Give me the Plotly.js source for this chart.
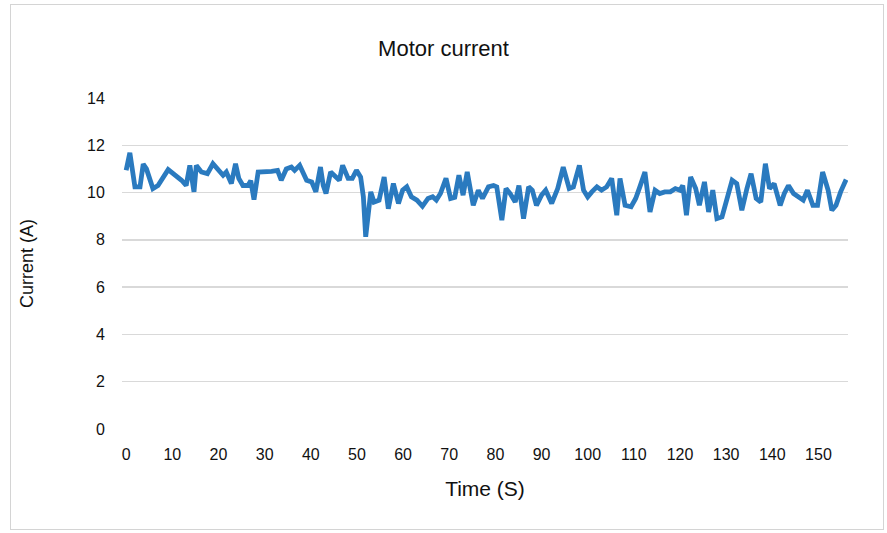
<!DOCTYPE html>
<html>
<head>
<meta charset="utf-8">
<script src="https://cdn.plot.ly/plotly-3.0.1.min.js"></script>
<style>
  html, body { margin: 0; padding: 0; background: #ffffff; }
  #wrap { position: relative; width: 887px; height: 533px; }
  #chart { width: 887px; height: 533px; }
  #frame { position: absolute; left: 10px; top: 4px; width: 874px; height: 526px;
           border: 1px solid #d4d4d4; pointer-events: none; box-sizing: border-box; }
</style>
</head>
<body>
<div id="wrap">
  <div id="chart"></div>
  <div id="frame"></div>
</div>
<script>
const timeS = [0, 0.8, 1.9, 3, 3.7, 4.4, 5.8, 6.9, 9.1, 9.8, 10.9, 12, 13, 13.8, 14.7, 15.2, 16.3, 17.6, 18.8, 19.9,
  21, 21.7, 22.8, 23.7, 24.4, 25.3, 26.4, 27, 27.7, 28.6, 30, 31.5, 32.8, 33.6, 34.7, 35.8, 36.5, 37.6, 39.1, 40.2,
  41.1, 42.1, 42.7, 43.3, 44.3, 45.2, 46.2, 46.9, 48.1, 49, 49.9, 50.8, 51.4, 51.9, 53, 53.7, 54.8, 55.9, 56.8, 57.9,
  59, 59.9, 60.8, 61.8, 63, 64.2, 65.4, 66.4, 67.2, 68.1, 69.3, 70.3, 71.2, 72.1, 73, 73.9, 75.2, 76.3, 77.2, 78.5,
  79.6, 80.3, 81.4, 82.3, 83.2, 84.3, 85.1, 86.1, 87.2, 88, 88.9, 90, 90.9, 92.2, 93.5, 94.7, 96, 96.9, 98.2, 99.1,
  100, 100.9, 102, 103, 104.1, 105.2, 106.3, 107, 108.1, 109.4, 110.4, 111.3, 112.4, 113.5, 114.6, 115.6, 116.7, 117.9, 119, 120,
  120.6, 121.4, 122.3, 123.4, 124.2, 125.3, 126.2, 127.1, 128, 129.1, 130.2, 131.3, 132.3, 133.4, 134.5, 135.4, 136.5, 137.5, 138.5, 139.4,
  140.4, 141.7, 142.6, 143.5, 144.6, 145.9, 146.7, 147.6, 148.8, 149.8, 150.9, 152.1, 152.9, 153.8, 154.8, 156];

const currentA = [10.94, 11.68, 10.24, 10.24, 11.2, 11.0, 10.17, 10.3, 10.97, 10.87, 10.69, 10.52, 10.3, 11.15, 10.03, 11.15, 10.87, 10.8, 11.22, 10.94,
  10.73, 10.87, 10.38, 11.22, 10.6, 10.3, 10.3, 10.5, 9.7, 10.87, 10.87, 10.9, 10.94, 10.52, 11.0, 11.08, 10.94, 11.15, 10.52, 10.45,
  10.03, 11.08, 10.3, 9.96, 10.87, 10.73, 10.52, 11.15, 10.6, 10.6, 10.94, 10.66, 9.82, 8.13, 10.03, 9.6, 9.68, 10.66, 9.32, 10.38,
  9.54, 10.1, 10.24, 9.82, 9.68, 9.42, 9.75, 9.82, 9.68, 9.96, 10.6, 9.75, 9.8, 10.73, 9.89, 10.87, 9.46, 10.1, 9.75, 10.24,
  10.3, 10.24, 8.83, 10.17, 9.96, 9.6, 10.3, 8.9, 10.24, 10.1, 9.46, 9.89, 10.1, 9.54, 10.17, 11.08, 10.17, 10.24, 11.15, 10.1,
  9.82, 10.03, 10.24, 10.1, 10.24, 10.6, 9.04, 10.6, 9.46, 9.4, 9.75, 10.24, 10.87, 9.18, 10.1, 9.96, 10.03, 10.03, 10.17, 10.1,
  10.3, 9.04, 10.66, 10.17, 9.46, 10.45, 9.18, 10.1, 8.9, 8.97, 9.82, 10.52, 10.38, 9.25, 10.17, 10.8, 9.75, 9.6, 11.22, 10.17,
  10.38, 9.46, 9.96, 10.3, 9.96, 9.82, 9.68, 10.1, 9.46, 9.46, 10.87, 10.1, 9.25, 9.46, 10.03, 10.55];

const xTicks = [0, 10, 20, 30, 40, 50, 60, 70, 80, 90, 100, 110, 120, 130, 140, 150];
const yTicks = [0, 2, 4, 6, 8, 10, 12, 14];

const font = 'Liberation Sans, Arial, Helvetica, sans-serif';

Plotly.newPlot('chart', [{
  x: timeS,
  y: currentA,
  type: 'scatter',
  mode: 'lines',
  line: { color: '#2a7abf', width: 4.8, shape: 'linear' },
  hoverinfo: 'skip'
}], {
  width: 887, height: 533,
  paper_bgcolor: 'rgba(0,0,0,0)',
  plot_bgcolor: 'rgba(0,0,0,0)',
  margin: { l: 122, r: 39, t: 98, b: 104 },
  showlegend: false,
  title: { text: 'Motor current', font: { family: font, size: 22, color: '#111' },
           x: 0.5, xref: 'container', y: 1 - 48/533, yref: 'container', yanchor: 'middle' },
  xaxis: {
    range: [-0.9, 156.4],
    tickvals: xTicks, ticktext: xTicks.map(String),
    showgrid: false, zeroline: false, showline: false,
    ticks: 'outside', ticklen: 11, tickcolor: 'rgba(0,0,0,0)',
    tickfont: { family: font, size: 16, color: '#111' },
    title: { text: 'Time (S)', font: { family: font, size: 21, color: '#111' }, standoff: 19 }
  },
  yaxis: {
    range: [0, 14],
    tickvals: yTicks, ticktext: yTicks.map(String),
    showgrid: true, gridcolor: '#d9d9d9', gridwidth: 1.5,
    zeroline: false, showline: false,
    ticks: 'outside', ticklen: 13, tickcolor: 'rgba(0,0,0,0)',
    tickfont: { family: font, size: 16, color: '#111' },
    title: { text: 'Current (A)', font: { family: font, size: 18, color: '#111' }, standoff: 48 }
  }
}, { displayModeBar: false, staticPlot: true });
</script>
</body>
</html>
